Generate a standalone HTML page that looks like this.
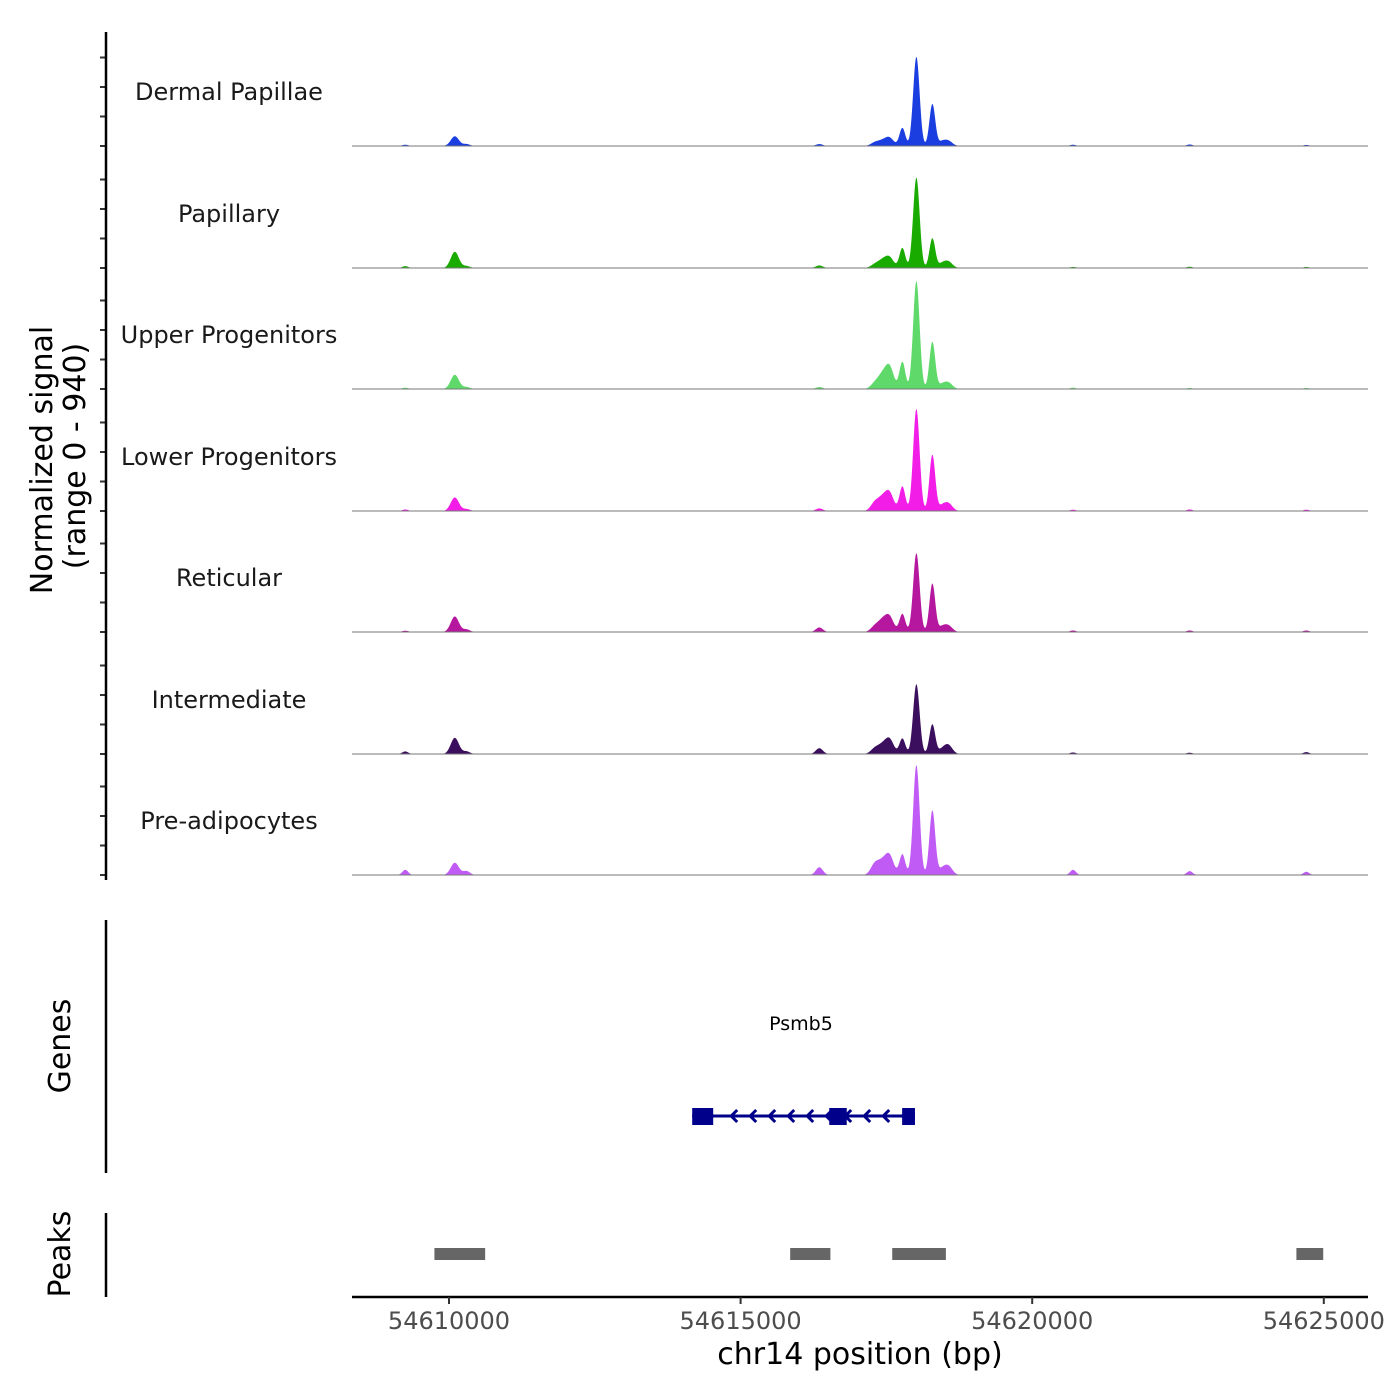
<!DOCTYPE html>
<html><head><meta charset="utf-8"><style>
body{margin:0;background:#fff;}
svg{display:block;font-family:"DejaVu Sans","Liberation Sans",sans-serif;}
</style></head><body>
<svg id="chart" width="1400" height="1400" viewBox="0 0 1400 1400" xmlns="http://www.w3.org/2000/svg">
<g id="tracks"></g>
<g id="axes"></g>
</svg>
<script>
const trackNames = ["Dermal Papillae","Papillary","Upper Progenitors","Lower Progenitors","Reticular","Intermediate","Pre-adipocytes"];
const trackColors = ["#1a3ee0","#1aab00","#5ed96a","#f21ee8","#b5179e","#3b0f5e","#c05cf5"];
// peak centres (bp)
const peakPos = [54610100,54617440,54617560,54617774,54618014,54618288,54618560,54617300,54616350,54609250,54620700,54622700,54624700,54610300,54618450];
const peakWidth = [70,80,70,50,55,50,70,70,60,50,50,50,50,60,60];
// heights per track (signal units, range 0-940)
const heightsDP = [75,40,55,140,690,325,40,25,15,10,10,12,8,15,30];
const heightsPap = [125,60,70,155,700,230,50,25,20,15,8,10,8,15,30];
const heightsUp = [110,110,150,210,835,365,50,40,15,10,10,8,8,15,30];
const heightsLow = [105,100,120,190,790,435,60,60,20,12,10,12,10,15,35];
const heightsRet = [120,90,100,140,610,375,50,40,35,10,12,12,12,20,35];
const heightsInt = [125,70,100,120,540,230,70,40,45,20,12,10,15,20,30];
const heightsPre = [95,100,130,160,850,500,70,80,60,40,40,30,25,30,40];
const trackHeights = [heightsDP,heightsPap,heightsUp,heightsLow,heightsRet,heightsInt,heightsPre];
const xTicks = [54610000,54615000,54620000,54625000];
const peakStarts = [54609750,54615850,54617600,54624530];
const peakEnds = [54610620,54616540,54618520,54624990];
const exonStarts = [54614170,54616520,54617770];
const exonEnds = [54614530,54616820,54617990];
const geneStart = 54614170, geneEnd = 54617990;

const NS="http://www.w3.org/2000/svg";
function mk(t,a,p){const e=document.createElementNS(NS,t);for(const k in a)e.setAttribute(k,a[k]);p.appendChild(e);return e;}
const xs = bp => 449 + (bp-54610000)/5000*291.6;
const baselines=[146,268,389,511,632,754,875];
const ys = (v,b) => b - v/940*121.5;
const tg=document.getElementById('tracks'), ag=document.getElementById('axes');

trackNames.forEach((nm,i)=>{
  const b=baselines[i], h=trackHeights[i];
  let d=`M352,${b}`;
  for(let px=352;px<=1324;px+=0.5){
    const bp=54610000+(px-449)/291.6*5000;
    let v=0;
    peakPos.forEach((p,j)=>{const z=(bp-p)/peakWidth[j];v+=h[j]*Math.exp(-z*z/2);});
    d+=`L${px},${ys(v,b).toFixed(2)}`;
  }
  d+=`L1324,${b}Z`;
  const a=mk('path',{d,fill:trackColors[i]},tg);
  
  
  const l=mk('line',{x1:352,x2:1368,y1:b,y2:b,stroke:'#777','stroke-width':1},tg);
  
  
  const t=mk('text',{x:229,y:b-46,'text-anchor':'middle','font-size':24,fill:'#1a1a1a'},tg);
  t.textContent=nm;
  
  
  for(let k=0;k<4;k++){
    const tk=mk('line',{x1:100,x2:106,y1:b-k*29.5,y2:b-k*29.5,stroke:'#333','stroke-width':2},ag);
    
    
  }
});
[[32,880],[920,1173],[1213,1297]].forEach(([a,b])=>{
  const l=mk('line',{x1:106,x2:106,y1:a,y2:b,stroke:'#000','stroke-width':2.5},ag);
  
  
});
let xl=mk('line',{x1:352,x2:1368,y1:1297,y2:1297,stroke:'#000','stroke-width':2.5},ag);


xTicks.forEach(v=>{
  const tk=mk('line',{x1:xs(v),x2:xs(v),y1:1297,y2:1304,stroke:'#333','stroke-width':2},ag);
  
  
  const t=mk('text',{x:xs(v),y:1329,'text-anchor':'middle','font-size':24,fill:'#4d4d4d'},ag);
  t.textContent=String(v);
  
  
});
let xt=mk('text',{x:860,y:1364,'text-anchor':'middle','font-size':30,fill:'#000'},ag);
xt.textContent='chr14 position (bp)';


let yt=mk('text',{transform:'translate(52,460) rotate(-90)','text-anchor':'middle','font-size':30,fill:'#000'},ag);
yt.textContent='Normalized signal';


let yt2=mk('text',{transform:'translate(85,456) rotate(-90)','text-anchor':'middle','font-size':30,fill:'#000'},ag);
yt2.textContent='(range 0 - 940)';


let gt=mk('text',{transform:'translate(70,1046) rotate(-90)','text-anchor':'middle','font-size':30,fill:'#000'},ag);
gt.textContent='Genes';


let pt=mk('text',{transform:'translate(70,1254) rotate(-90)','text-anchor':'middle','font-size':30,fill:'#000'},ag);
pt.textContent='Peaks';


peakStarts.forEach((s,i)=>{
  const r=mk('rect',{x:xs(s),y:1248,width:xs(peakEnds[i])-xs(s),height:12,fill:'#666'},ag);
  
  
});
const gl=mk('line',{x1:xs(geneStart),x2:xs(geneEnd),y1:1116,y2:1116,stroke:'#00008b','stroke-width':3},ag);


for(let x=xs(geneStart)+40;x<xs(geneEnd)-8;x+=19){
  const c=mk('path',{d:`M${x+5},${1110}L${x-1},1116L${x+5},1122`,fill:'none',stroke:'#00008b','stroke-width':3},ag);
  
  
}
exonStarts.forEach((s,i)=>{
  const r=mk('rect',{x:xs(s),y:1108,width:xs(exonEnds[i])-xs(s),height:17,fill:'#00008b'},ag);
  
  
});
const gn=mk('text',{x:801,y:1030,'text-anchor':'middle','font-size':19,fill:'#000'},ag);
gn.textContent='Psmb5';


</script>
</body></html>
